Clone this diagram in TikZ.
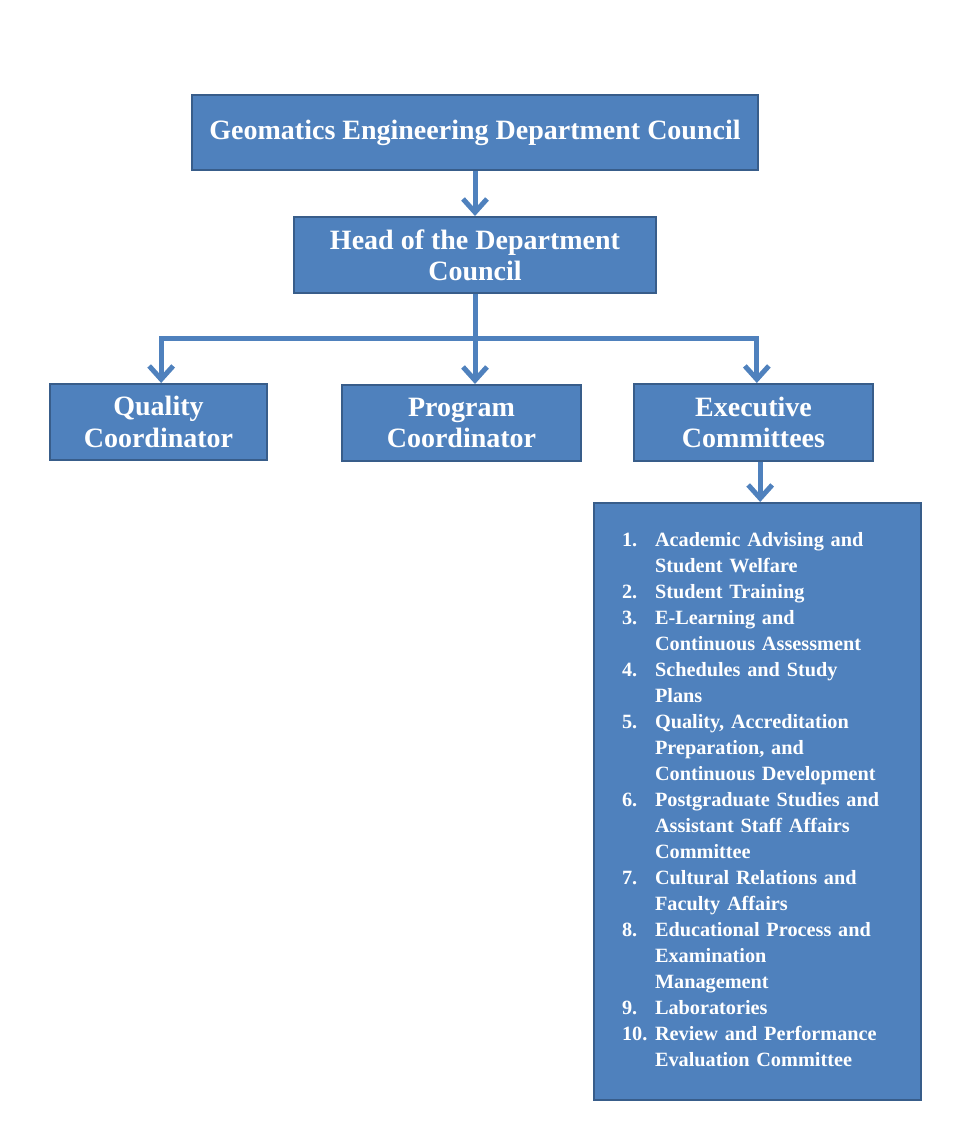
\documentclass[tikz,border=0pt]{standalone}
\usepackage{fontspec}
\setmainfont{Liberation Serif}
\usetikzlibrary{arrows.meta,positioning}
\definecolor{boxblue}{HTML}{4F81BD}
\definecolor{boxedge}{HTML}{385D8A}
\tikzset{
main_box/.style={rectangle, draw=boxedge, line width=1.5pt, fill=boxblue, text=white, font=\bfseries\fontsize{21}{23.5}\selectfont, align=center, inner sep=0pt},
list_box/.style={rectangle, draw=boxedge, line width=1.5pt, fill=boxblue, text=white, font=\bfseries\fontsize{15.2}{19.5}\selectfont, inner xsep=21pt, inner ysep=0pt},
link/.style={draw=boxblue, line width=3.75pt, -{Straight Barb[length=10pt,width=18pt]}},
trunk/.style={draw=boxblue, line width=3.75pt}
}

\begin{document}
\begin{tikzpicture}[x=0.75pt,y=-0.75pt]
    \useasboundingbox (0,0) rectangle (975,1148);
    \node[main_box, minimum width=424.5pt, minimum height=56.25pt] (dept_council) at (475,132.5) {Geomatics Engineering Department Council};
    \node[main_box, minimum width=271.5pt, minimum height=57pt] (head) at (475,255) {Head of the Department\\Council};
    \node[main_box, minimum width=162.75pt, minimum height=57pt] (quality_coord) at (158.5,422) {Quality\\Coordinator};
    \node[main_box, minimum width=179.25pt, minimum height=57pt] (program_coord) at (461.5,423) {Program\\Coordinator};
    \node[main_box, minimum width=179.25pt, minimum height=57.75pt] (exec_comm) at (753.5,422.5) {Executive\\Committees};
    \node[list_box, text width=203.25pt, minimum height=447.75pt] (committees) at (757.5,801.5) {%
      \begin{tabular}{@{}p{24.75pt}@{}l@{}}
        1. & Academic Advising and \\
           & Student Welfare \\
        2. & Student Training \\
        3. & E-Learning and \\
           & Continuous Assessment \\
        4. & Schedules and Study \\
           & Plans \\
        5. & Quality, Accreditation \\
           & Preparation, and \\
           & Continuous Development \\
        6. & Postgraduate Studies and \\
           & Assistant Staff Affairs \\
           & Committee \\
        7. & Cultural Relations and \\
           & Faculty Affairs \\
        8. & Educational Process and \\
           & Examination \\
           & Management \\
        9. & Laboratories \\
        10. & Review and Performance \\
           & Evaluation Committee
      \end{tabular}};
    \coordinate (split) at (475,338);
    \draw[link] (dept_council.south) -- (head.north);
    \draw[trunk] (head.south) -- (split);
    \draw[link] (split) -| ([xshift=2pt]quality_coord.north);
    \draw[link] (split) -- (split |- program_coord.north);
    \draw[link] (split) -| ([xshift=2.5pt]exec_comm.north);
    \draw[link] ([xshift=5pt]exec_comm.south) -- ([xshift=5pt]committees.north -| exec_comm.south);
\end{tikzpicture}
\end{document}
